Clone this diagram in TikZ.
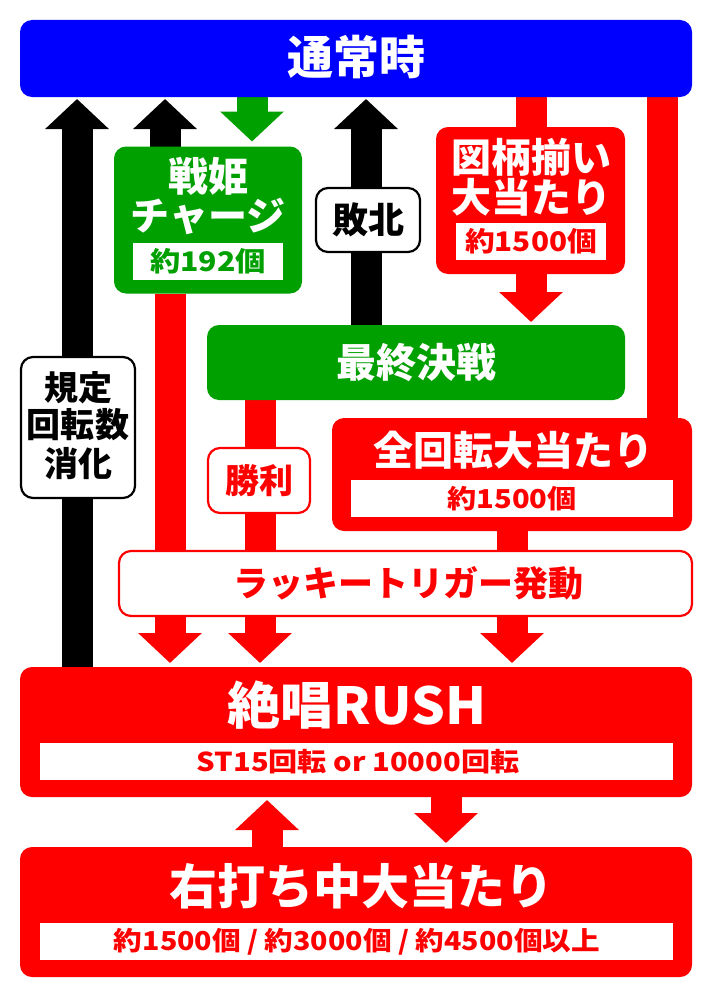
\documentclass[tikz,border=0pt]{standalone}
\usepackage{fontspec}
\usepackage{graphicx}
\setmainfont{Noto Sans CJK JP}[BoldFont={Noto Sans CJK JP Black}]
\usetikzlibrary{arrows.meta,calc}
\definecolor{pblue}{RGB}{0,0,255}
\definecolor{pred}{RGB}{255,0,0}
\definecolor{pgreen}{RGB}{0,160,0}
\newcommand\fsz[1]{\fontsize{#1pt}{#1pt}\selectfont}
\newcommand\wid[2]{\scalebox{#1}[1]{#2}}
\pgfdeclarelayer{back}
\pgfdeclarelayer{bg}
\pgfsetlayers{back,bg,main}
\tikzset{
 bx/.style={rectangle, rounded corners=12pt, inner sep=0pt, outer sep=0pt},
 sub/.style={rectangle, fill=white, inner sep=0pt, outer sep=0pt},
 lbl/.style={rectangle, rounded corners=12pt, fill=white, line width=2.2pt, inner sep=0pt},
 tx/.style={inner sep=0pt, font={\fsz{#1}\bfseries}},
 shaft/.style={line width=31pt},
 arr/.style={line width=31pt, -{Triangle[length=30pt,width=62pt]}},
}
\begin{document}
\begin{tikzpicture}[x=1pt,y=-1pt]
\begin{pgfonlayer}{back}
\useasboundingbox[fill=white] (0,0) rectangle (712,998);
\end{pgfonlayer}
% columns
\coordinate (cA) at (77,0);
\coordinate (cB) at (165,0);
\coordinate (cG) at (252,0);
\coordinate (cC) at (366,0);
\coordinate (cZ) at (531,0);
\coordinate (cR) at (662,0);
\coordinate (cS) at (170,0);
\coordinate (cW) at (260,0);
\coordinate (cK) at (512,0);
\coordinate (cU) at (267,0);
\coordinate (cD) at (446,0);
% boxes
\node[bx, fill=pblue, minimum width=672pt, minimum height=77pt] (top) at (356,58.5) {};
\node[tx=46, text=white] (topT) at (356,57) {通常時};

\node[bx, fill=pgreen, minimum width=188pt, minimum height=147pt] (senki) at (208,220) {};
\node[tx=40, text=white] (senkiT1) at (208,176) {戦姫};
\node[tx=39, text=white] (senkiT2) at (208,216) {チャージ};
\node[sub, minimum width=150pt, minimum height=37pt] (senkiS) at (208,261.5) {};
\node[tx=27, text=pgreen] (senkiST) at (208,261.5) {\wid{1.12}{約192個}};

\node[bx, fill=pred, minimum width=189pt, minimum height=147pt] (zugara) at (530.5,200.5) {};
\node[tx=40, text=white] (zugaraT1) at (531,157) {図柄揃い};
\node[tx=40, text=white] (zugaraT2) at (531,197) {大当たり};
\node[sub, minimum width=150pt, minimum height=37pt] (zugaraS) at (531,241.5) {};
\node[tx=27, text=pred] (zugaraST) at (531,241.5) {\wid{1.1}{約1500個}};

\node[lbl, draw=black, minimum width=104pt, minimum height=64pt] (haiboku) at (368,220) {};
\node[tx=36, text=black] (haibokuT) at (368,220) {敗北};

\node[bx, fill=pgreen, minimum width=418pt, minimum height=75pt] (saishu) at (416,362.5) {};
\node[tx=40, text=white] (saishuT) at (416,362.5) {最終決戦};

\node[lbl, draw=black, minimum width=114pt, minimum height=141pt] (kitei) at (78,427.5) {};
\node[tx=34, text=black] (kiteiT1) at (78,388) {規定};
\node[tx=34, text=black] (kiteiT2) at (78,425) {回転数};
\node[tx=34, text=black] (kiteiT3) at (78,464) {消化};

\node[lbl, draw=pred, minimum width=102pt, minimum height=65pt] (shori) at (259,480.5) {};
\node[tx=34, text=pred] (shoriT) at (259,480.5) {勝利};

\node[bx, fill=pred, minimum width=360pt, minimum height=113pt] (zenkaiten) at (512,474.5) {};
\node[tx=40, text=white] (zenkaitenT) at (513,450) {全回転大当たり};
\node[sub, minimum width=322pt, minimum height=37pt] (zenkaitenS) at (512,498.5) {};
\node[tx=26, text=pred] (zenkaitenST) at (512,498.5) {\wid{1.12}{約1500個}};

\node[lbl, draw=pred, minimum width=573pt, minimum height=65pt] (lucky) at (405.5,583.5) {};
\node[tx=35, text=pred] (luckyT) at (408,583.5) {ラッキートリガー発動};

\node[bx, fill=pred, minimum width=672pt, minimum height=130pt] (rush) at (356,732) {};
\node[tx=51, text=white] (rushT) at (357,705) {\wid{1.04}{絶唱RUSH}};
\node[sub, minimum width=633pt, minimum height=37pt] (rushS) at (356.5,761.5) {};
\node[tx=26, text=pred] (rushST) at (358,761.5) {\wid{1.12}{ST15回転 or 10000回転}};

\node[bx, fill=pred, minimum width=672pt, minimum height=130pt] (migi) at (356,912) {};
\node[tx=48, text=white] (migiT) at (361,886) {右打ち中大当たり};
\node[sub, minimum width=633pt, minimum height=37pt] (migiS) at (356.5,941.5) {};
\node[tx=26, text=pred] (migiST) at (357,941.5) {\wid{1.1}{約1500個 / 約3000個 / 約4500個以上}};

% connectors
\begin{pgfonlayer}{bg}
\draw[arr, black] (cA |- rush.north) -- ($(cA |- top.south)+(0,2)$);
\draw[arr, black] (cB |- senki.north) -- ($(cB |- top.south)+(0,2)$);
\draw[arr, black] (cC |- saishu.north) -- ($(cC |- top.south)+(0,2)$);
\draw[arr, pgreen] (cG |- top.south) -- ($(cG |- senki.north)+(0,-5)$);
\draw[shaft, pred] (cZ |- top.south) -- (cZ |- zugara.north);
\draw[arr, pred] (cZ |- zugara.south) -- ($(cZ |- saishu.north)+(0,-3)$);
\draw[shaft, pred] (cR |- top.south) -- (cR |- zenkaiten.north);
\draw[arr, pred] (cS |- senki.south) -- ($(cS |- rush.north)+(0,-4)$);
\draw[arr, pred] (cW |- saishu.south) -- ($(cW |- rush.north)+(0,-4)$);
\draw[arr, pred] (cK |- zenkaiten.south) -- ($(cK |- rush.north)+(0,-4)$);
\draw[arr, pred] (cU |- migi.north) -- ($(cU |- rush.south)+(0,3)$);
\draw[arr, pred] (cD |- rush.south) -- ($(cD |- migi.north)+(0,-4)$);
\end{pgfonlayer}
\end{tikzpicture}
\end{document}
